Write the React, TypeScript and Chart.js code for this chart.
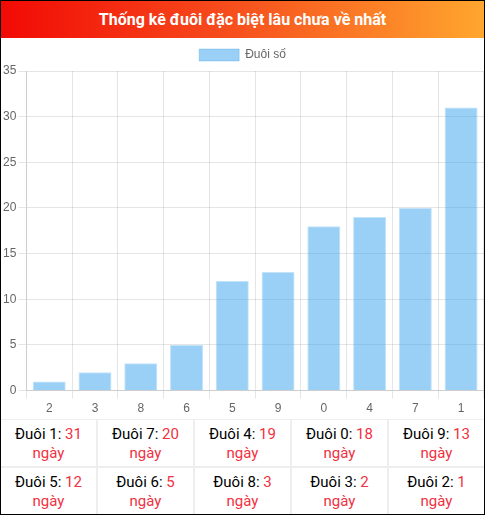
import { useEffect, useRef } from 'react'
import Chart from 'chart.js/auto'

const tails = ['2', '3', '8', '6', '5', '9', '0', '4', '7', '1']
const daysMissing = [1, 2, 3, 5, 12, 13, 18, 19, 20, 31]
const seriesLabel = 'Đuôi số'
const title = 'Thống kê đuôi đặc biệt lâu chưa về nhất'

// table order (top-left to bottom-right)
const tableTails = ['1', '7', '4', '0', '9', '5', '6', '8', '3', '2']
const tableDays = [31, 20, 19, 18, 13, 12, 5, 3, 2, 1]

function TailChart() {
  const chartRef = useRef<HTMLCanvasElement>(null)
  const chartInstance = useRef<Chart | null>(null)

  useEffect(() => {
    if (!chartRef.current) return
    const ctx = chartRef.current.getContext('2d')
    if (!ctx) return

    if (chartInstance.current) chartInstance.current.destroy()

    chartInstance.current = new Chart(ctx, {
      type: 'bar',
      data: {
        labels: tails,
        datasets: [{
          label: seriesLabel,
          data: daysMissing,
          backgroundColor: 'rgba(54, 162, 235, 0.5)',
          borderColor: 'rgba(54, 162, 235, 0.3)',
          borderWidth: 1
        }]
      },
      options: {
        responsive: true,
        maintainAspectRatio: false,
        animation: false,
        layout: { padding: { left: 0, right: 0, top: 1, bottom: 0 } },
        plugins: {
          legend: {
            display: true,
            labels: { color: '#666', font: { size: 12 }, boxWidth: 40, boxHeight: 12 }
          }
        },
        scales: {
          x: {
            ticks: { color: '#666', font: { size: 12 } },
            grid: { color: 'rgba(0,0,0,0.1)' }
          },
          y: {
            min: 0,
            max: 35,
            ticks: { stepSize: 5, color: '#666', font: { size: 12 }, padding: 2 },
            grid: { color: 'rgba(0,0,0,0.1)' }
          }
        }
      }
    })

    return () => {
      if (chartInstance.current) chartInstance.current.destroy()
    }
  }, [])

  return (
    <div style={{ position: 'relative', height: 381 }}>
      <canvas ref={chartRef} />
    </div>
  )
}

export default function App() {
  return (
    <div style={{
      position: 'fixed', left: 0, top: 0, width: 485, height: 515, boxSizing: 'border-box',
      border: '1px solid #000', background: '#fff', fontFamily: 'Roboto, sans-serif', overflow: 'hidden'
    }}>
      <div style={{
        height: 37, lineHeight: '37px', textAlign: 'center', color: '#fff', fontWeight: 'bold', fontSize: 16,
        background: 'linear-gradient(to right, #f20a05, #f64a1c 45%, #ffa62e)'
      }}>
        {title}
      </div>
      <TailChart />
      <div style={{ display: 'grid', gridTemplateColumns: 'repeat(5, 1fr)', gap: 2, background: '#eee', borderTop: '1px solid #eee' }}>
        {tableTails.map((t, i) => (
          <div key={t} style={{ background: '#fff', height: 46, textAlign: 'center', fontSize: 15, lineHeight: '19px', paddingTop: 5, boxSizing: 'border-box' }}>
            <span style={{ color: '#000' }}>Đuôi {t}: </span>
            <span style={{ color: '#f0313f' }}>{tableDays[i]}</span>
            <div style={{ color: '#f0313f' }}>ngày</div>
          </div>
        ))}
      </div>
    </div>
  )
}
